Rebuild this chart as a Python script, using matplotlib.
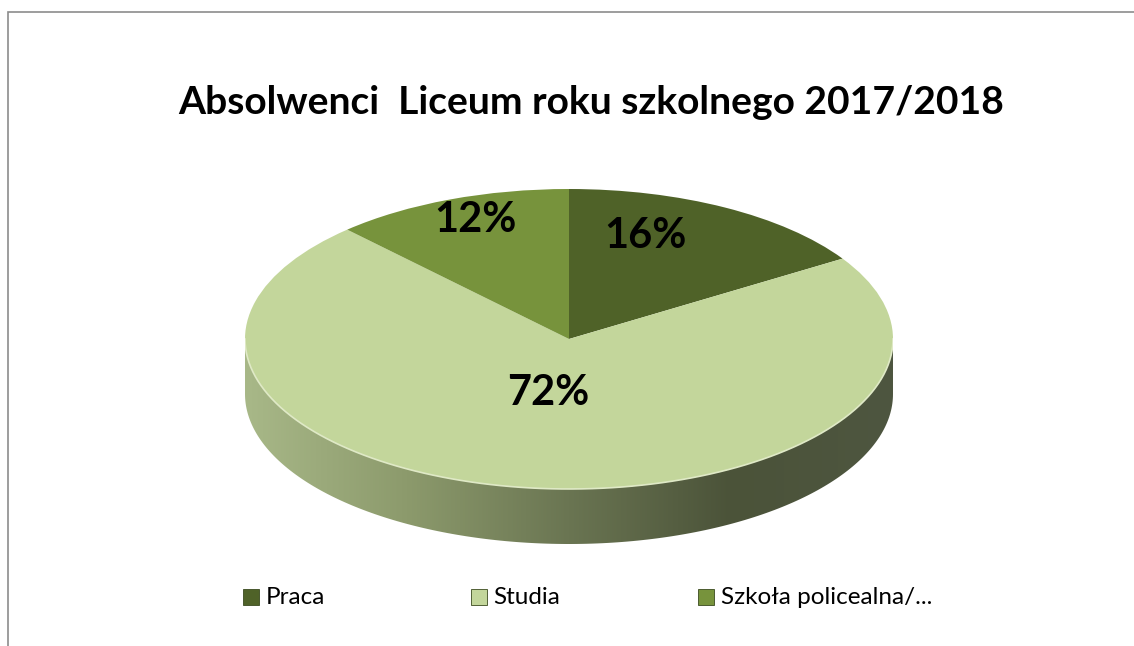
import numpy as np
import matplotlib
matplotlib.use("Agg")
import matplotlib.pyplot as plt
from matplotlib.patches import Polygon, Rectangle
from matplotlib.colors import LinearSegmentedColormap

# data
categories = ["Praca", "Studia", "Szkoła policealna/..."]
values = [16, 72, 12]
colors = ["#4f6228", "#c3d69b", "#77933c"]
pct_labels = ["16%", "72%", "12%"]
title = "Absolwenci  Liceum roku szkolnego 2017/2018"

W, H = 1134, 646
fig = plt.figure(figsize=(W / 100, H / 100), dpi=100)
fig.patch.set_facecolor("white")

# chart border (only top and left visible in the crop)
fig.add_artist(Rectangle((8 / W, -0.1), 1.2, 1.1 - 12 / H, transform=fig.transFigure,
                         fill=False, edgecolor="#8c8c8c", linewidth=1.2))

# pie geometry in pixels
cx, cy = 569, 339        # centre of top face (from top of image)
rx, ry = 324, 150
depth = 55
d = depth / ry

ax = fig.add_axes([(cx - rx) / W, (H - (cy + ry + depth)) / H, 2 * rx / W, (2 * ry + depth) / H])
ax.set_xlim(-1, 1)
ax.set_ylim(-1 - d, 1)
ax.set_aspect("auto")
ax.axis("off")

# side of the cylinder with a horizontal gradient
t = np.linspace(np.pi, 2 * np.pi, 200)
top_edge = np.column_stack([np.cos(t), np.sin(t)])
bot_edge = np.column_stack([np.cos(t[::-1]), np.sin(t[::-1]) - d])
side = Polygon(np.vstack([top_edge, bot_edge]), closed=True, facecolor="none", edgecolor="none")
ax.add_patch(side)
cmap = LinearSegmentedColormap.from_list("side", ["#a8b888", "#8c9a6c", "#6a7552", "#4b5339", "#4e5640"])
grad = np.linspace(0, 1, 256).reshape(1, -1)
im = ax.imshow(grad, extent=(-1, 1, -1 - d, 0), aspect="auto", cmap=cmap, zorder=1)
im.set_clip_path(side)

wedges, _ = ax.pie(values, colors=colors, startangle=90, counterclock=False,
                   radius=1, wedgeprops=dict(linewidth=0))
for w in wedges:
    w.set_zorder(2)
ax.set_xlim(-1, 1)
ax.set_ylim(-1 - d, 1)
ax.set_aspect("auto")

# light rim on the front of the top face
ax.plot(np.cos(t), np.sin(t), color="#dfe9c6", linewidth=1.2, zorder=3)

# percentage labels (positions adjusted for the tilted view)
label_pos = [(0.235, 0.69), (-0.065, -0.36), (-0.29, 0.79)]
for (x, y), s in zip(label_pos, pct_labels):
    ax.text(x, y, s, ha="center", va="center", fontsize=30, fontweight="bold",
            family="Lato", color="black", zorder=4)

fig.text(591.5 / W, 1 - 103 / H, title, ha="center", va="center", fontsize=28.1,
         fontweight="bold", family="Lato", color="black")

# legend
leg_x = [251, 478.5, 706]
leg_y = 597
for x, lab, c in zip(leg_x, categories, colors):
    fig.add_artist(Rectangle(((x - 8) / W, 1 - (leg_y + 8) / H), 16 / W, 16 / H,
                             transform=fig.transFigure, facecolor=c, edgecolor="#3a4a1e",
                             linewidth=0.6))
    fig.text((x + 15) / W, 1 - leg_y / H, lab, ha="left", va="center", fontsize=17.5,
             family="Lato", color="black")

fig.savefig("out.png", dpi=100)
